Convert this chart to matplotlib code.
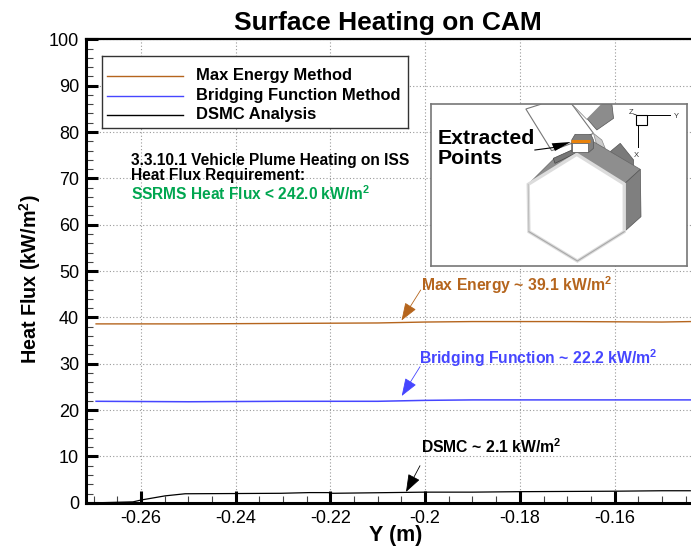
import matplotlib
matplotlib.use("Agg")
import matplotlib.pyplot as plt
from matplotlib.patches import Polygon
from matplotlib.ticker import MultipleLocator, FixedLocator

plt.rcParams['font.family'] = ['Liberation Sans', 'DejaVu Sans']
plt.rcParams['mathtext.fontset'] = 'custom'
plt.rcParams['mathtext.rm'] = 'Liberation Sans'
plt.rcParams['mathtext.bf'] = 'Liberation Sans:bold'
plt.rcParams['mathtext.default'] = 'regular'

W, H = 691, 546
BROWN = '#b5651d'
BLUE = '#4646ff'
GREEN = '#00a650'

max_y_pos = [-0.2695, -0.25, -0.23, -0.21, -0.2, -0.19, -0.17, -0.15, -0.144]
max_energy = [38.6, 38.6, 38.7, 38.8, 39.0, 39.1, 39.1, 39.0, 39.1]
bridge_y_pos = [-0.2695, -0.25, -0.23, -0.21, -0.2, -0.19, -0.17, -0.15, -0.144]
bridging = [21.9, 21.8, 21.9, 21.9, 22.1, 22.2, 22.2, 22.2, 22.2]
dsmc_y_pos = [-0.2695, -0.2617, -0.26, -0.2549, -0.2507, -0.24, -0.2305, -0.2245, -0.2205, -0.2195, -0.2, -0.19, -0.18, -0.16, -0.15, -0.144]
dsmc = [0.0, 0.2, 0.6, 1.5, 1.95, 2.0, 2.05, 2.2, 2.2, 2.05, 2.3, 2.3, 2.4, 2.5, 2.6, 2.6]

y_ticks = [0, 10, 20, 30, 40, 50, 60, 70, 80, 90, 100]
x_ticks = [-0.26, -0.24, -0.22, -0.2, -0.18, -0.16]
x_labels = ['-0.26', '-0.24', '-0.22', '-0.2', '-0.18', '-0.16']


def rect(l, t, r, b):
    return [l / W, 1 - b / H, (r - l) / W, (b - t) / H]


fig = plt.figure(figsize=(W / 100, H / 100), dpi=100)
ax = fig.add_axes(rect(86, 39.3, 691, 502.8))
ax.set_xlim(-0.27163, -0.14385)
ax.set_ylim(0, 100)

ax.xaxis.set_major_locator(FixedLocator(x_ticks))
ax.xaxis.set_minor_locator(MultipleLocator(0.005))
ax.yaxis.set_major_locator(FixedLocator(y_ticks))
ax.yaxis.set_minor_locator(MultipleLocator(2))
ax.set_xticklabels(x_labels)
ax.tick_params(axis='both', which='major', direction='in', length=8.6, width=2.2,
               labelsize=13, pad=5, color='black')
ax.tick_params(axis='both', which='minor', direction='in', length=5, width=0.8, color='#444444')
ax.grid(True, which='major', linestyle=(0, (1, 2)), linewidth=0.8, color='#999999')
ax.set_axisbelow(True)
for s in ['left', 'bottom']:
    ax.spines[s].set_linewidth(2.2)
ax.spines['top'].set_linewidth(1.6)
ax.spines['right'].set_visible(False)

ax.plot(max_y_pos, max_energy, color=BROWN, lw=1.0, label='Max Energy Method')
ax.plot(bridge_y_pos, bridging, color=BLUE, lw=1.1, label='Bridging Function Method')
ax.plot(dsmc_y_pos, dsmc, color='black', lw=0.9, label='DSMC Analysis')

fig.text(388 / W, 1 - 23 / H, 'Surface Heating on CAM', ha='center', va='center',
         fontsize=19, fontweight='bold')
fig.text(396 / W, 1 - 535 / H, 'Y (m)', ha='center', va='center', fontsize=15.5, fontweight='bold')
fig.text(30 / W, 1 - 279 / H, r'Heat Flux (kW/m$^{\mathbf{2}}$)', ha='center', va='center',
         rotation=90, fontsize=14.2, fontweight='bold')

# legend box
lg = fig.add_axes(rect(101.5, 55.5, 408, 128))
lg.set_xlim(101.5, 408)
lg.set_ylim(128, 55.5)
lg.set_xticks([])
lg.set_yticks([])
for s in lg.spines.values():
    s.set_linewidth(1.0)
    s.set_color('#333333')
lg.patch.set_facecolor('white')
for name, col, yy, in [('Max Energy Method', BROWN, 75.5),
                       ('Bridging Function Method', BLUE, 95.5),
                       ('DSMC Analysis', 'black', 115)]:
    lg.plot([107, 183], [yy, yy], color=col, lw=1.0)
    lg.text(196, yy, name, va='center', ha='left', fontsize=11.9, fontweight='bold')

# requirement text
fig.text(131 / W, 1 - 160 / H, '3.3.10.1 Vehicle Plume Heating on ISS', fontsize=11.2,
         fontweight='bold', va='center')
fig.text(131 / W, 1 - 175.5 / H, 'Heat Flux Requirement:', fontsize=11.2, fontweight='bold', va='center')
fig.text(131 / W, 1 - 194 / H, r'SSRMS Heat Flux < 242.0 kW/m$^{\mathbf{2}}$', fontsize=11.2,
         fontweight='bold', va='center', color=GREEN)


def note(txt, col, tx, ty, px, py, qx, qy):
    fig.text(tx / W, 1 - ty / H, txt, color=col, fontsize=11.3, fontweight='bold', va='center')
    tr = ax.transData.inverted()
    tip = tr.transform((qx * 1.0, (H - qy) * 1.0))
    tail = tr.transform((px * 1.0, (H - py) * 1.0))
    ax.annotate('', xy=tip, xytext=tail,
                arrowprops=dict(arrowstyle='-|>,head_length=1.1,head_width=0.4', color=col,
                                lw=0.6, shrinkA=0, shrinkB=0))


note(r'Max Energy ~ 39.1 kW/m$^{\mathbf{2}}$', BROWN, 421, 285, 420.7, 290, 401.5, 320.5)
note(r'Bridging Function ~ 22.2 kW/m$^{\mathbf{2}}$', BLUE, 419, 358, 420, 366.7, 401.7, 396)
note(r'DSMC ~ 2.1 kW/m$^{\mathbf{2}}$', 'black', 421, 447, 420, 465.7, 406, 492)

# inset picture (zoomed-crop coordinates)
ins = fig.add_axes(rect(430.5, 104, 686.5, 266))
ins.set_xlim(33, 798)
ins.set_ylim(528, 42)
ins.set_xticks([])
ins.set_yticks([])
ins.patch.set_facecolor('white')
ins.set_zorder(5)
for s in ins.spines.values():
    s.set_linewidth(1.2)
    s.set_color('#777777')


def poly(pts, fc, ec='none', lw=0.6, z=2):
    ins.add_patch(Polygon(pts, closed=True, facecolor=fc, edgecolor=ec, linewidth=lw, zorder=z))


poly([(318, 57), (365, 42), (455, 42), (520, 130), (455, 160), (395, 182)], 'white', '#777777', 0.8, 1)
poly([(455, 42), (575, 42), (580, 85), (530, 120), (500, 85)], '#8c8c8c', '#555555', 0.5, 1)
poly([(455, 42), (545, 42), (500, 88)], 'white', '#888888', 0.5, 1)
poly([(570, 185), (600, 160), (640, 210), (640, 235)], '#7a7a7a', '#555555', 0.5, 1)
poly([(520, 130), (545, 150), (555, 175), (530, 165)], '#cccccc', '#888888', 0.5, 1)
poly([(325, 283), (400, 208), (470, 185), (520, 155), (660, 238), (612, 282), (470, 193)], '#8e8e8e', '#666666', 0.5)
poly([(612, 282), (660, 238), (662, 380), (612, 425)], '#7f7f7f', '#555555', 0.5)
poly([(400, 205), (460, 178), (470, 188), (405, 220)], '#777777', '#444444', 0.5)
poly([(325, 283), (470, 193), (612, 282), (612, 425), (472, 513), (327, 425)], 'white', '#dcdcdc', 2.4, 3)
ins.plot([327, 472, 612], [425, 513, 425], color='#a8a8a8', lw=0.8, zorder=3)
ins.plot([325, 327], [283, 425], color='#b8b8b8', lw=0.6, zorder=3)
poly([(455, 150), (465, 133), (512, 133), (520, 150), (520, 175), (505, 188), (455, 185)], '#808080', '#555555', 0.5, 4)
poly([(455, 160), (505, 160), (505, 185), (455, 185)], 'white', '#555555', 0.5, 5)
ins.plot([452, 510], [154, 154], color='#e8820c', lw=2.2, zorder=6, solid_capstyle='butt')
poly([(395, 160), (452, 156), (405, 183)], 'black', z=6)
ins.plot([345, 405], [180, 172], color='black', lw=0.8, zorder=6)
ins.text(55, 145, 'Extracted', fontsize=15.3, fontweight='bold', va='center', zorder=7)
ins.text(55, 207, 'Points', fontsize=15.3, fontweight='bold', va='center', zorder=7)
poly([(648, 75), (680, 75), (680, 105), (648, 105)], 'white', 'black', 0.8, 6)
ins.plot([653, 653], [105, 170], color='black', lw=0.7, zorder=6)
ins.plot([680, 748], [76, 76], color='black', lw=0.7, zorder=6)
ins.plot([640, 648], [72, 75], color='black', lw=0.5, zorder=6)
ins.text(768, 78, 'Y', fontsize=5.5, ha='center', va='center', color='#333333', zorder=7)
ins.text(648, 196, 'X', fontsize=5.5, ha='center', va='center', color='#333333', zorder=7)
ins.text(633, 67, 'Z', fontsize=5.5, ha='center', va='center', color='#333333', zorder=7)

fig.savefig('out.png', dpi=100)
